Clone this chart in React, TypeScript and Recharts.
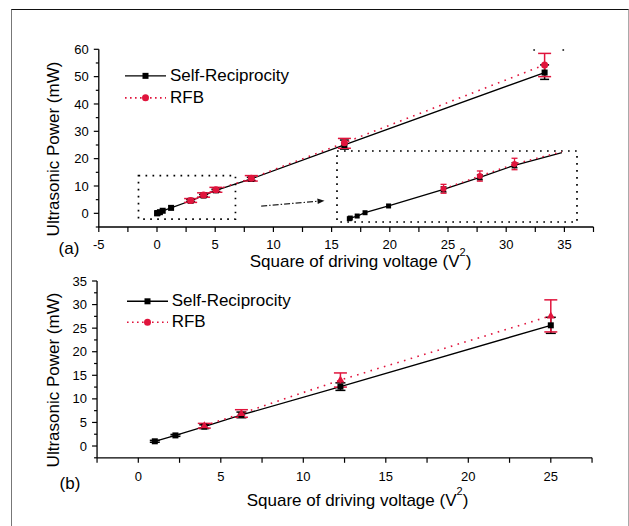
import React from 'react';
import {
  ComposedChart,
  Line,
  XAxis,
  YAxis,
  ErrorBar,
  ReferenceArea,
  ReferenceLine,
  ReferenceDot,
  Legend,
} from 'recharts';

const FONT = '"Liberation Sans", Arial, Helvetica, sans-serif';
const RED = '#e0143c';

const seriesNames = ['Self-Reciprocity', 'RFB'];

// panel (a): square of driving voltage (V^2) -> ultrasonic power (mW)
const voltsSqA = [0.01, 0.04, 0.25, 0.49, 1.21, 2.89, 4.0, 5.06, 8.1, 16.1, 33.3];
const selfRecA = [0.0, 0.1, 0.42, 0.94, 2.0, 4.6, 6.5, 8.4, 12.6, 25.0, 51.5];
const selfRecErrA = [null, null, null, null, null, 0.4, 0.4, 0.4, 0.6, [1.5, 1.8], [2.5, 2.8]];
const rfbVoltsSqA = [2.89, 4.0, 5.06, 8.1, 16.1, 33.3];
const rfbA = [4.7, 6.7, 8.6, 12.8, 25.8, 54.3];
const rfbErrA = [0.7, 0.8, 0.9, 1.0, [2.0, 1.6], [4.3, 4.2]];
// where the fitted lines end inside the zoomed inset
const insetFitEnd = { x: 6.51, selfRec: 10.38, rfb: 10.53 };
// two stray dots of a frame near the top right of panel (a)
const strayDotsA = [{ x: 32.4, y: 59.75 }, { x: 34.9, y: 59.75 }];

// panel (b)
const voltsSqB = [1, 2.25, 4, 6.25, 12.25, 25];
const selfRecB = [1.0, 2.25, 4.1, 6.6, 12.6, 25.6];
const selfRecErrB = [0.2, 0.2, 0.4, 0.6, 0.8, 1.7];
const rfbVoltsSqB = [4, 6.25, 12.25, 25];
const rfbB = [4.3, 6.9, 14.0, 27.6];
const rfbErrB = [0.5, 0.8, 1.5, 3.4];

// ticks
const aXMajor = [-5, 0, 5, 10, 15, 20, 25, 30, 35];
const aXMinor = [-2.5, 2.5, 7.5, 12.5, 17.5, 22.5, 27.5, 32.5, 37.5];
const aYMajor = [0, 10, 20, 30, 40, 50, 60];
const aYMinor = [-5, 5, 15, 25, 35, 45, 55];
const bXMajor = [0, 5, 10, 15, 20, 25];
const bXMinor = [-2.5, 2.5, 7.5, 12.5, 17.5, 22.5, 27.5];
const bYMajor = [0, 5, 10, 15, 20, 25, 30, 35];
const bYMinor = [-2.5, 2.5, 7.5, 12.5, 17.5, 22.5, 27.5, 32.5];

const toPoints = (xs: number[], ys: number[], errs: any[]) =>
  xs.map((x, i) => ({ x, y: ys[i], err: errs[i] == null ? undefined : errs[i] }));

const selfRecPtsA = toPoints(voltsSqA, selfRecA, selfRecErrA);
const rfbPtsA = toPoints(rfbVoltsSqA, rfbA, rfbErrA);
const insetSelfRec = [
  ...selfRecPtsA.filter((p) => p.x < 6),
  { x: insetFitEnd.x, y: insetFitEnd.selfRec, err: undefined, end: true },
];
const insetRfb = [
  ...rfbPtsA.filter((p) => p.x < 6),
  { x: insetFitEnd.x, y: insetFitEnd.rfb, err: undefined, end: true },
];
const selfRecPtsB = toPoints(voltsSqB, selfRecB, selfRecErrB);
const rfbPtsB = toPoints(rfbVoltsSqB, rfbB, rfbErrB);

const sortTicks = (a: number[], b: number[]) => [...a, ...b].sort((m, n) => m - n);

function makeXTick(majors: number[], gap: number) {
  return (props: any) => {
    const { x, y, payload } = props;
    const major = majors.includes(payload.value);
    return (
      <g>
        <line x1={x} y1={y} x2={x} y2={y + 5} stroke="#000" strokeWidth={1.2} />
        {major && (
          <text x={x} y={y + gap} dy="0.71em" textAnchor="middle" fontSize={13} fontFamily={FONT} fill="#000">
            {payload.value}
          </text>
        )}
      </g>
    );
  };
}

function makeYTick(majors: number[]) {
  return (props: any) => {
    const { x, y, payload } = props;
    const major = majors.includes(payload.value);
    return (
      <g>
        <line x1={x - (major ? 5 : 3)} y1={y} x2={x} y2={y} stroke="#000" strokeWidth={1.2} />
        {major && (
          <text x={x - 10} y={y} dy="0.35em" textAnchor="end" fontSize={13} fontFamily={FONT} fill="#000">
            {payload.value}
          </text>
        )}
      </g>
    );
  };
}

const makeSquare = (size: number) => (p: any) => {
  if (p.cx == null || p.payload?.end) return <g key={p.key} />;
  return <rect key={p.key} x={p.cx - size / 2} y={p.cy - size / 2} width={size} height={size} fill="#000" />;
};
const makeCircle = (r: number) => (p: any) => {
  if (p.cx == null || p.payload?.end) return <g key={p.key} />;
  return <circle key={p.key} cx={p.cx} cy={p.cy} r={r} fill={RED} />;
};
const triangleDot = (p: any) => {
  if (p.cx == null) return <g key={p.key} />;
  return <path key={p.key} d={`M${p.cx},${p.cy - 4.5} L${p.cx + 4},${p.cy + 2.5} L${p.cx - 4},${p.cy + 2.5} Z`} fill={RED} />;
};

function LegendBox({ rowH, lineW, textX }: { rowH: number; lineW: number; textX: number }) {
  return (
    <div style={{ fontFamily: FONT, fontSize: 17, color: '#000' }}>
      {seriesNames.map((name, i) => (
        <div key={name} style={{ display: 'flex', alignItems: 'center', height: rowH }}>
          <svg width={textX} height={rowH} style={{ display: 'block' }}>
            {i === 0 ? (
              <>
                <line x1={0} x2={lineW} y1={rowH / 2} y2={rowH / 2} stroke="#000" strokeWidth={1.4} />
                <rect x={lineW / 2 - 3} y={rowH / 2 - 3} width={6} height={6} fill="#000" />
              </>
            ) : (
              <>
                <line x1={0} x2={lineW} y1={rowH / 2} y2={rowH / 2} stroke={RED} strokeWidth={1.6} strokeDasharray="1.6 3.4" />
                <circle cx={lineW / 2} cy={rowH / 2} r={3.5} fill={RED} />
              </>
            )}
          </svg>
          <span style={{ lineHeight: `${rowH}px`, whiteSpace: 'nowrap' }}>{name}</span>
        </div>
      ))}
    </div>
  );
}

const axisLine = { stroke: '#000', strokeWidth: 1.3 };
const dotted = { stroke: '#000', strokeWidth: 1.7, strokeDasharray: '1.7 5.3', fill: 'none', fillOpacity: 0 };

function PanelA() {
  return (
    <ComposedChart width={629} height={270} margin={{ top: 49.3, right: 35.5, bottom: 13, left: 48.8 }}>
      <XAxis
        type="number"
        dataKey="x"
        domain={[-5, 37.5]}
        ticks={sortTicks(aXMajor, aXMinor)}
        interval={0}
        tick={makeXTick(aXMajor, 12.5)}
        tickSize={0}
        tickMargin={0}
        tickLine={false}
        axisLine={axisLine}
        height={30}
        allowDataOverflow
      />
      <YAxis
        type="number"
        domain={[-5, 60]}
        ticks={sortTicks(aYMajor, aYMinor)}
        interval={0}
        tick={makeYTick(aYMajor)}
        tickSize={0}
        tickMargin={0}
        tickLine={false}
        axisLine={axisLine}
        width={50}
        allowDataOverflow
      />
      <ReferenceArea x1={-1.59} x2={6.74} y1={-2.1} y2={13.8} {...dotted} ifOverflow="visible" />
      <ReferenceLine
        segment={[{ x: 8.95, y: 2.67 }, { x: 13.8, y: 4.4 }]}
        stroke="#222"
        strokeWidth={1.2}
        strokeDasharray="6 2 1.5 2"
      />
      <ReferenceDot
        x={14.39}
        y={4.61}
        shape={(p: any) => (
          <path
            d={`M${p.cx},${p.cy} L${p.cx - 7},${p.cy - 2.8} L${p.cx - 7},${p.cy + 2.8} Z`}
            fill="#111"
            transform={`rotate(-4.8 ${p.cx} ${p.cy})`}
          />
        )}
      />
      {strayDotsA.map((d) => (
        <ReferenceDot key={d.x} x={d.x} y={d.y} r={1} fill="#333" stroke="none" />
      ))}
      <Line
        data={selfRecPtsA}
        dataKey="y"
        type="linear"
        stroke="#000"
        strokeWidth={1.3}
        dot={makeSquare(6)}
        activeDot={false}
        isAnimationActive={false}
      >
        <ErrorBar dataKey="err" direction="y" width={4.5} stroke="#000" strokeWidth={1.5} isAnimationActive={false} />
      </Line>
      <Line
        data={rfbPtsA}
        dataKey="y"
        type="linear"
        stroke={RED}
        strokeWidth={1.6}
        strokeDasharray="1.6 5.4"
        dot={makeCircle(3.5)}
        activeDot={false}
        isAnimationActive={false}
      >
        <ErrorBar dataKey="err" direction="y" width={6.5} stroke={RED} strokeWidth={1.5} isAnimationActive={false} />
      </Line>
      <Legend
        layout="vertical"
        align="center"
        verticalAlign="middle"
        wrapperStyle={{ left: 125, top: 65.2, width: 260, height: 44 }}
        content={() => <LegendBox rowH={21.7} lineW={41} textX={45} />}
      />
    </ComposedChart>
  );
}

function InsetA() {
  return (
    <ComposedChart width={244} height={75} margin={{ top: 2, right: 2, bottom: 2, left: 2 }}>
      <XAxis type="number" dataKey="x" domain={[-0.367, 6.97]} hide allowDataOverflow />
      <YAxis type="number" domain={[-0.52, 10.64]} hide allowDataOverflow />
      <ReferenceArea x1={-0.367} x2={6.97} y1={-0.52} y2={10.64} {...dotted} ifOverflow="visible" />
      <Line
        data={insetSelfRec}
        dataKey="y"
        type="linear"
        stroke="#000"
        strokeWidth={1.3}
        dot={makeSquare(5)}
        activeDot={false}
        isAnimationActive={false}
      >
        <ErrorBar dataKey="err" direction="y" width={3} stroke="#000" strokeWidth={1.3} isAnimationActive={false} />
      </Line>
      <Line
        data={insetRfb}
        dataKey="y"
        type="linear"
        stroke={RED}
        strokeWidth={1.5}
        strokeDasharray="1.5 5"
        dot={makeCircle(3)}
        activeDot={false}
        isAnimationActive={false}
      >
        <ErrorBar dataKey="err" direction="y" width={3} stroke={RED} strokeWidth={1.3} isAnimationActive={false} />
      </Line>
    </ComposedChart>
  );
}

function PanelB() {
  return (
    <ComposedChart width={629} height={266} margin={{ top: 21, right: 36.95, bottom: 38.2, left: 47.05 }}>
      <XAxis
        type="number"
        dataKey="x"
        domain={[-2.5, 27.5]}
        ticks={sortTicks(bXMajor, bXMinor)}
        interval={0}
        tick={makeXTick(bXMajor, 14)}
        tickSize={0}
        tickMargin={0}
        tickLine={false}
        axisLine={axisLine}
        height={30}
        allowDataOverflow
      />
      <YAxis
        type="number"
        domain={[-2.5, 35]}
        ticks={sortTicks(bYMajor, bYMinor)}
        interval={0}
        tick={makeYTick(bYMajor)}
        tickSize={0}
        tickMargin={0}
        tickLine={false}
        axisLine={axisLine}
        width={50}
        allowDataOverflow
      />
      <Line
        data={selfRecPtsB}
        dataKey="y"
        type="linear"
        stroke="#000"
        strokeWidth={1.3}
        dot={makeSquare(6)}
        activeDot={false}
        isAnimationActive={false}
      >
        <ErrorBar dataKey="err" direction="y" width={5} stroke="#000" strokeWidth={1.5} isAnimationActive={false} />
      </Line>
      <Line
        data={rfbPtsB}
        dataKey="y"
        type="linear"
        stroke={RED}
        strokeWidth={1.6}
        strokeDasharray="1.6 5.4"
        dot={triangleDot}
        activeDot={false}
        isAnimationActive={false}
      >
        <ErrorBar dataKey="err" direction="y" width={6.5} stroke={RED} strokeWidth={1.5} isAnimationActive={false} />
      </Line>
      <Legend
        layout="vertical"
        align="center"
        verticalAlign="middle"
        wrapperStyle={{ left: 126.7, top: 31.4, width: 260, height: 42 }}
        content={() => <LegendBox rowH={20.6} lineW={41} textX={45} />}
      />
    </ComposedChart>
  );
}

function Titles() {
  const txt = { fontFamily: FONT, fontSize: 17, fill: '#000' };
  const xTitle = (cx: number, base: number) => (
    <text x={cx} y={base} textAnchor="middle" {...txt}>
      Square of driving voltage (V
      <tspan dy={-11} fontSize={11}>2</tspan>
      <tspan dy={11}>)</tspan>
    </text>
  );
  return (
    <svg width={629} height={526} style={{ position: 'absolute', left: 0, top: 0, pointerEvents: 'none' }}>
      <text x={53.5} y={149} dy="0.35em" textAnchor="middle" transform="rotate(-90 53.5 149)" {...txt}>
        Ultrasonic Power (mW)
      </text>
      <text x={53.5} y={380} dy="0.35em" textAnchor="middle" transform="rotate(-90 53.5 380)" {...txt}>
        Ultrasonic Power (mW)
      </text>
      {xTitle(360.5, 267)}
      {xTitle(357.5, 506)}
      <text x={69} y={254} textAnchor="middle" {...txt}>(a)</text>
      <text x={70} y={489} textAnchor="middle" {...txt}>(b)</text>
    </svg>
  );
}

export default function App() {
  return (
    <div style={{ position: 'absolute', left: 0, top: 0, width: 629, height: 526, background: '#fff', overflow: 'hidden' }}>
      <div
        style={{
          position: 'absolute',
          left: 11,
          top: 9,
          width: 616,
          height: 530,
          borderTop: '1px solid #111',
          borderLeft: '1.5px solid #777',
          borderRight: '1px solid #aaa',
        }}
      />
      <div style={{ position: 'absolute', left: 0, top: 0 }}>
        <PanelA />
      </div>
      <div style={{ position: 'absolute', left: 334.7, top: 149 }}>
        <InsetA />
      </div>
      <div style={{ position: 'absolute', left: 0, top: 260 }}>
        <PanelB />
      </div>
      <Titles />
    </div>
  );
}
